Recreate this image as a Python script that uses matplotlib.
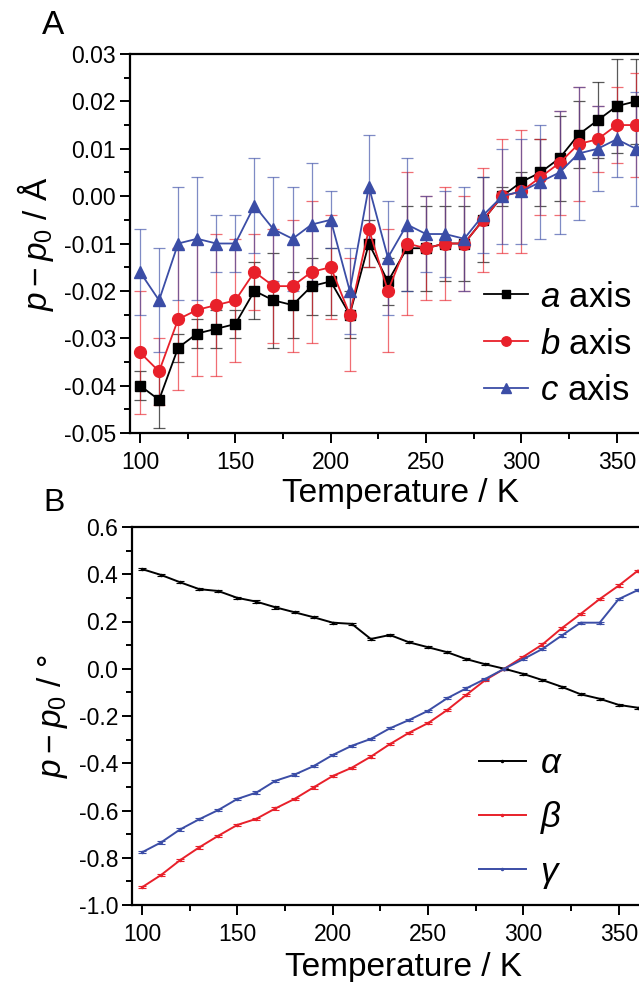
import matplotlib
matplotlib.use("Agg")
import matplotlib.pyplot as plt
from matplotlib.ticker import MultipleLocator
from matplotlib.lines import Line2D
import numpy as np

plt.rcParams['font.family'] = ['Liberation Sans', 'DejaVu Sans']
plt.rcParams['mathtext.fontset'] = 'custom'
plt.rcParams['mathtext.rm'] = 'Liberation Sans'
plt.rcParams['mathtext.it'] = 'Liberation Sans:italic'
plt.rcParams['mathtext.bf'] = 'Liberation Sans:bold'

# ---------------- data ----------------
temperature = [100, 110, 120, 130, 140, 150, 160, 170, 180, 190, 200, 210, 220, 230,
               240, 250, 260, 270, 280, 290, 300, 310, 320, 330, 340, 350, 360]

a_axis = [-0.040, -0.043, -0.032, -0.029, -0.028, -0.027, -0.020, -0.022, -0.023, -0.019,
          -0.018, -0.025, -0.010, -0.018, -0.011, -0.011, -0.010, -0.010, -0.005, 0.000,
          0.003, 0.005, 0.008, 0.013, 0.016, 0.019, 0.020]
a_err = [0.003, 0.006, 0.003, 0.003, 0.004, 0.003, 0.006, 0.010, 0.007, 0.006,
         0.007, 0.005, 0.005, 0.005, 0.009, 0.009, 0.008, 0.008, 0.009, 0.002,
         0.002, 0.007, 0.009, 0.007, 0.008, 0.010, 0.009]

b_axis = [-0.033, -0.037, -0.026, -0.024, -0.023, -0.022, -0.016, -0.019, -0.019, -0.016,
          -0.015, -0.025, -0.007, -0.020, -0.010, -0.011, -0.010, -0.010, -0.005, 0.000,
          0.001, 0.004, 0.007, 0.011, 0.012, 0.015, 0.015]
b_err = [0.013, 0.007, 0.015, 0.014, 0.015, 0.013, 0.008, 0.012, 0.014, 0.015,
         0.011, 0.012, 0.008, 0.013, 0.015, 0.011, 0.012, 0.010, 0.011, 0.012,
         0.013, 0.008, 0.011, 0.012, 0.007, 0.008, 0.011]

c_axis = [-0.016, -0.022, -0.010, -0.009, -0.010, -0.010, -0.002, -0.007, -0.009, -0.006,
          -0.005, -0.020, 0.002, -0.013, -0.006, -0.008, -0.008, -0.009, -0.004, 0.000,
          0.001, 0.003, 0.005, 0.009, 0.010, 0.012, 0.010]
c_err = [0.009, 0.011, 0.012, 0.013, 0.006, 0.006, 0.010, 0.011, 0.011, 0.013,
         0.006, 0.009, 0.011, 0.012, 0.014, 0.008, 0.009, 0.011, 0.008, 0.010,
         0.011, 0.012, 0.013, 0.014, 0.009, 0.008, 0.012]

alpha_ang = [0.422, 0.397, 0.366, 0.337, 0.329, 0.300, 0.284, 0.260, 0.239, 0.218,
             0.195, 0.190, 0.126, 0.143, 0.112, 0.091, 0.070, 0.041, 0.019, 0.000,
             -0.022, -0.048, -0.076, -0.108, -0.127, -0.153, -0.165]
beta_ang = [-0.925, -0.873, -0.810, -0.756, -0.707, -0.661, -0.635, -0.591, -0.551, -0.502,
            -0.454, -0.419, -0.372, -0.319, -0.271, -0.230, -0.175, -0.111, -0.048, 0.000,
            0.051, 0.103, 0.171, 0.232, 0.295, 0.352, 0.415]
gamma_ang = [-0.777, -0.735, -0.680, -0.637, -0.598, -0.551, -0.524, -0.474, -0.448, -0.412,
             -0.365, -0.326, -0.297, -0.252, -0.217, -0.178, -0.125, -0.083, -0.043, 0.000,
             0.041, 0.084, 0.140, 0.195, 0.195, 0.295, 0.333]
angle_err = [0.005] * 27

# ---------------- style ----------------
BLACK = '#000000'
RED = '#E8202A'
BLUE = '#3B4DA6'

W, H = 639, 982
fig = plt.figure(figsize=(W / 100, H / 100), dpi=100)


def px_axes(left, top, right, bottom):
    return fig.add_axes([left / W, 1 - bottom / H, (right - left) / W, (bottom - top) / H])


def style_axes(ax):
    for s in ['left', 'bottom', 'top']:
        ax.spines[s].set_linewidth(1.6)
    ax.spines['right'].set_visible(False)
    ax.tick_params(which='both', direction='out', top=False, right=False, width=1.4,
                   labelsize=16.5)
    ax.tick_params(axis='x', pad=6)
    ax.tick_params(axis='y', pad=3)
    ax.tick_params(which='major', length=7)
    ax.tick_params(which='minor', length=4)
    ax.xaxis.set_major_locator(MultipleLocator(50))
    ax.xaxis.set_minor_locator(MultipleLocator(25))


# ---------------- panel A ----------------
axA = px_axes(130, 54, 672, 433)
axA.set_xlim(100 - 10 / 1.907, 100 + 532 / 1.907)
axA.set_ylim(-0.05, 0.03)
style_axes(axA)
axA.yaxis.set_major_locator(MultipleLocator(0.01))
axA.yaxis.set_minor_locator(MultipleLocator(0.005))
axA.yaxis.set_major_formatter(matplotlib.ticker.FuncFormatter(
    lambda v, p: ('%.2f' % v).replace('-0.00', '0.00')))

seriesA = [(a_axis, a_err, BLACK, 's', 7.0, r'$a$ axis'),
           (b_axis, b_err, RED, 'o', 8.5, r'$b$ axis'),
           (c_axis, c_err, BLUE, '^', 9.0, r'$c$ axis')]
for vals, err, col, mk, ms, lab in seriesA:
    axA.errorbar(temperature, vals, yerr=err, fmt='none', ecolor=col, elinewidth=0.9,
                 capsize=4, capthick=0.9, alpha=0.65, clip_on=False, zorder=2)
handlesA = []
for vals, err, col, mk, ms, lab in seriesA:
    axA.plot(temperature, vals, color=col, lw=1.3, marker=mk, ms=ms, mec=col, mfc=col,
             clip_on=False, zorder=3)
    handlesA.append(Line2D([], [], color=col, lw=1.3, marker=mk, ms=ms * 0.8,
                           mec=col, mfc=col, label=lab))

axA.set_xlabel('Temperature / K', fontsize=24, labelpad=3)
axA.set_ylabel(r'$p - p_0$ / Å', fontsize=24, labelpad=6)
axA.legend(handles=handlesA, loc='center left',
           bbox_to_anchor=(354 / 542, 1 - 290 / 379), frameon=False,
           fontsize=25, handlelength=1.27, handletextpad=0.35, labelspacing=0.4,
           borderaxespad=0, borderpad=0)
fig.text(42 / W, 1 - 25 / H, 'A', fontsize=24, va='center', ha='left')

# ---------------- panel B ----------------
axB = px_axes(132, 527, 674, 905)
axB.set_xlim(100 - 10 / 1.907, 100 + 532 / 1.907)
axB.set_ylim(-1.0, 0.6)
style_axes(axB)
axB.yaxis.set_major_locator(MultipleLocator(0.2))
axB.yaxis.set_minor_locator(MultipleLocator(0.1))
axB.yaxis.set_major_formatter(matplotlib.ticker.FuncFormatter(
    lambda v, p: ('%.1f' % v).replace('-0.0', '0.0')))

seriesB = [(alpha_ang, BLACK, r'$\alpha$'),
           (beta_ang, RED, r'$\beta$'),
           (gamma_ang, BLUE, r'$\gamma$')]
handlesB = []
for vals, col, lab in seriesB:
    axB.errorbar(temperature, vals, yerr=angle_err, color=col, lw=1.4, elinewidth=0.8,
                 capsize=3, capthick=0.8, marker='o', ms=1.5, clip_on=False)
    handlesB.append(Line2D([], [], color=col, lw=1.4, marker='o', ms=1.5, label=lab))

axB.set_xlabel('Temperature / K', fontsize=24, labelpad=4)
axB.set_ylabel(r'$p - p_0$ / °', fontsize=24, labelpad=6)
axB.legend(handles=handlesB, loc='center left',
           bbox_to_anchor=(347 / 542, 1 - (819 - 527) / 378), frameon=False,
           fontsize=25, handlelength=1.35, handletextpad=0.4, labelspacing=0.55,
           borderaxespad=0, borderpad=0)
fig.text(43 / W, 1 - 503 / H, 'B', fontsize=23, va='center', ha='left')

fig.savefig('out.png', dpi=100)
